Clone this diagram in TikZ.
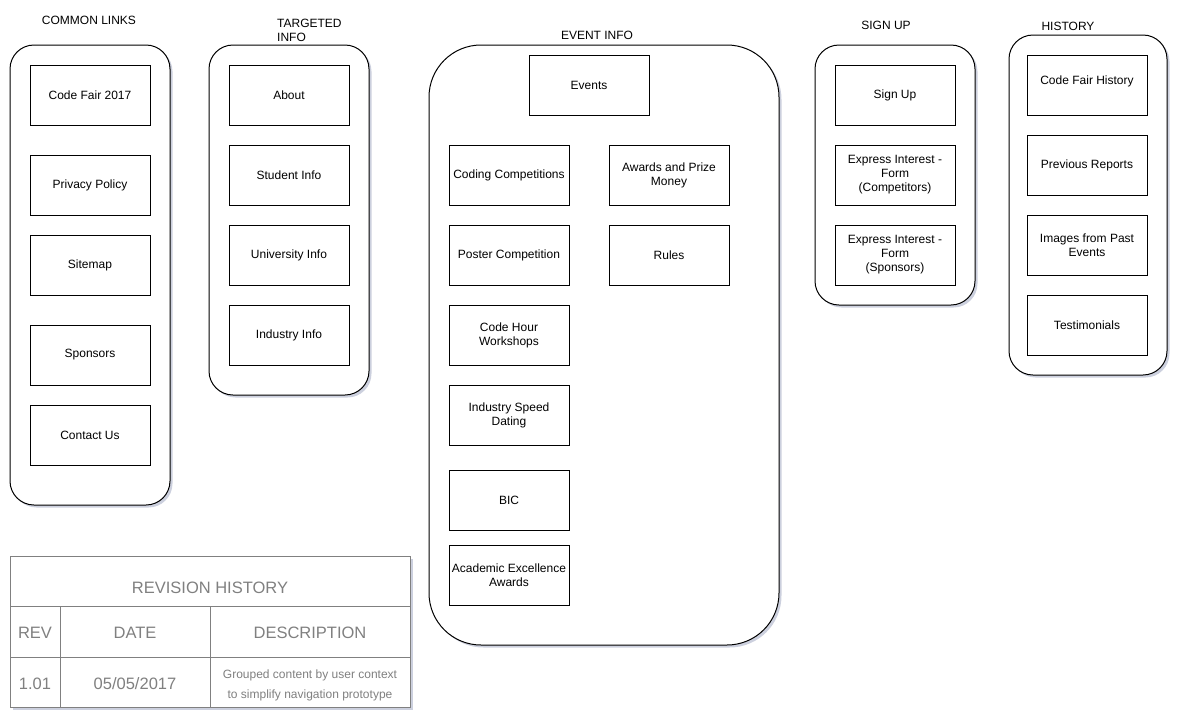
\documentclass[tikz,border=0pt]{standalone}
\usepackage{fontspec}
\setmainfont{Liberation Sans}
\usetikzlibrary{shadows}
\definecolor{shade}{RGB}{110,120,160}
\definecolor{tblline}{RGB}{128,128,128}
\definecolor{tbltext}{RGB}{128,128,128}
\begin{document}
\begin{tikzpicture}[x=1pt,y=-1pt,
  pagebox/.style={draw=black, line width=1pt, fill=white, minimum width=120pt, minimum height=60pt,
    inner sep=1pt, align=center, font=\fontsize{12}{14}\selectfont},
  group/.style={draw=black, line width=1pt, fill=white, rounded corners=24pt, inner sep=0pt,
    drop shadow={shadow xshift=2.5pt, shadow yshift=-2.5pt, opacity=0.35, fill=shade}},
  grouptitle/.style={font=\fontsize{12}{14}\selectfont, inner sep=0pt},
  cell/.style={draw=tblline, line width=1pt, inner sep=0pt},
  celltext/.style={inner sep=0pt, align=center, text=tbltext},
  bigtext/.style={font=\fontsize{16.5}{19}\selectfont},
  smalltext/.style={font=\fontsize{12}{20}\selectfont}]
\useasboundingbox (0,0) rectangle (1184,724);

% ---------- group containers ----------
\node[group, minimum width=160pt, minimum height=460pt] (gcommon) at (90,275) {};
\node[group, minimum width=160pt, minimum height=350pt] (gtarget) at (289,220) {};
\node[group, rounded corners=52pt, minimum width=350pt, minimum height=600pt] (gevent) at (604,345) {};
\node[group, minimum width=160pt, minimum height=260pt] (gsign) at (895,175) {};
\node[group, minimum width=158pt, minimum height=340pt] (ghist) at (1088,205) {};

% ---------- group titles ----------
\node[grouptitle] (tcommon) at (89,20) {COMMON LINKS};
\node[grouptitle, anchor=north west, align=left] (ttarget) at (277,19) {TARGETED\\INFO};
\node[grouptitle] (tevent) at (597,35) {EVENT INFO};
\node[grouptitle] (tsign) at (886,25) {SIGN UP};
\node[grouptitle] (thist) at (1068,26) {HISTORY};

% ---------- common links ----------
\node[pagebox] (codefair) at (90,95) {Code Fair 2017};
\node[pagebox] (privacy) at (90,185) {Privacy Policy};
\node[pagebox] (sitemap) at (90,265) {Sitemap};
\node[pagebox] (sponsors) at (90,355) {Sponsors};
\node[pagebox] (contact) at (90,435) {Contact Us};

% ---------- targeted info ----------
\node[pagebox] (about) at (289,95) {About};
\node[pagebox] (student) at (289,175) {Student Info};
\node[pagebox] (university) at (289,255) {University Info};
\node[pagebox] (industry) at (289,335) {Industry Info};

% ---------- event info ----------
\node[pagebox] (events) at (589,85) {Events};
\node[pagebox] (coding) at (509,175) {Coding Competitions};
\node[pagebox] (poster) at (509,255) {Poster Competition};
\node[pagebox] (codehour) at (509,335) {Code Hour\\Workshops};
\node[pagebox] (speed) at (509,415) {Industry Speed\\Dating};
\node[pagebox] (bic) at (509,500) {BIC};
\node[pagebox] (academic) at (509,575) {Academic Excellence\\Awards};
\node[pagebox] (awards) at (669,175) {Awards and Prize\\Money};
\node[pagebox] (rules) at (669,255) {Rules};

% ---------- sign up ----------
\node[pagebox] (signup) at (895,95) {Sign Up};
\node[pagebox] (intcomp) at (895,175) {Express Interest -\\Form\\(Competitors)};
\node[pagebox] (intspon) at (895,255) {Express Interest -\\Form\\(Sponsors)};

% ---------- history ----------
\node[pagebox] (cfhist) at (1087,85) {\raisebox{9pt}{Code Fair History}};
\node[pagebox] (reports) at (1087,165) {Previous Reports};
\node[pagebox] (images) at (1087,245) {Images from Past\\Events};
\node[pagebox] (testim) at (1087,325) {Testimonials};

% ---------- revision history table ----------
\node[draw=tblline, line width=1pt, fill=white, minimum width=400pt, minimum height=151pt, inner sep=0pt,
  drop shadow={shadow xshift=2.5pt, shadow yshift=-2.5pt, opacity=0.35, fill=shade}] (table) at (210,631.5) {};
\node[cell, minimum width=400pt, minimum height=50pt] (rowtitle) at (210,581) {};
\node[cell, minimum width=50pt, minimum height=51pt] (cellrev) at (35,631.5) {};
\node[cell, minimum width=150pt, minimum height=51pt] (celldate) at (135,631.5) {};
\node[cell, minimum width=200pt, minimum height=51pt] (celldesc) at (310,631.5) {};
\node[cell, minimum width=50pt, minimum height=50pt] (cellvrev) at (35,682) {};
\node[cell, minimum width=150pt, minimum height=50pt] (cellvdate) at (135,682) {};
\node[cell, minimum width=200pt, minimum height=50pt] (cellvdesc) at (310,682) {};

\node[celltext, bigtext] (revtitle) at (rowtitle.center) [yshift=-7pt] {REVISION HISTORY};
\node[celltext, bigtext] (hrev) at (cellrev.center) [yshift=-1.5pt] {REV};
\node[celltext, bigtext] (hdate) at (celldate.center) [yshift=-1.5pt] {DATE};
\node[celltext, bigtext] (hdesc) at (celldesc.center) [yshift=-1.5pt] {DESCRIPTION};
\node[celltext, bigtext] (vrev) at (cellvrev.center) [yshift=-2pt] {1.01};
\node[celltext, bigtext] (vdate) at (cellvdate.center) [yshift=-2pt] {05/05/2017};
\node[celltext, smalltext] (vdesc) at (cellvdesc.center) [yshift=-3pt] {Grouped content by user context\\to simplify navigation prototype};
\end{tikzpicture}
\end{document}
